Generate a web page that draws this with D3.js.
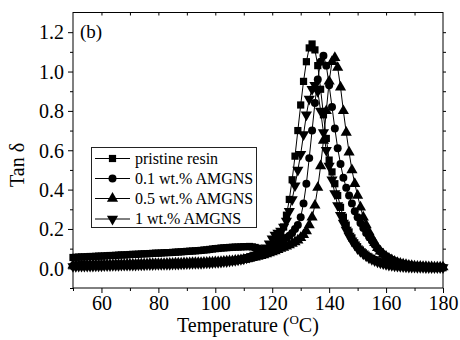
<!DOCTYPE html>
<html><head><meta charset="utf-8">
<script src="https://cdn.jsdelivr.net/npm/d3@7"></script>
<style>html,body{margin:0;padding:0;background:#fff;}svg{display:block;}svg text{font-family:"Liberation Serif","Times New Roman",serif !important;fill:#000;}</style>
</head><body>
<svg id="c" width="460" height="340"></svg>
<script>
const temperature = [50,51,52,53,54,55,56,57,58,59,60,61,62,63,64,65,66,67,68,69,70,71,72,73,74,75,76,77,78,79,80,81,82,83,84,85,86,87,88,89,90,91,92,93,94,95,96,97,98,99,100,101,102,103,104,105,106,107,108,109,110,111,112,113,114,115,116,117,118,119,120,121,122,123,124,125,126,127,128,129,130,131,132,133,134,135,136,137,138,139,140,141,142,143,144,145,146,147,148,149,150,151,152,153,154,155,156,157,158,159,160,161,162,163,164,165,166,167,168,169,170,171,172,173,174,175,176,177,178,179,180];

const pristine = [
.055,.056,.057,.058,.058,.059,.060,.060,.061,.062,.062,
.063,.064,.065,.065,.066,.067,.068,.068,.069,.070,
.071,.071,.072,.073,.074,.074,.075,.076,.077,.077,
.078,.079,.080,.080,.081,.082,.083,.084,.085,.086,
.087,.088,.089,.090,.091,.093,.094,.096,.098,.100,
.101,.103,.104,.105,.106,.107,.108,.108,.109,.110,
.110,.111,.109,.106,.102,.098,.096,.097,.100,.108,
.12,.14,.17,.21,.27,.35,.45,.57,.70,.83,
.95,1.05,1.12,1.14,1.11,1.03,.91,.78,.66,.55,
.49,.43,.37,.31,.26,.22,.185,.155,.13,.11,
.093,.079,.067,.058,.050,.043,.037,.032,.027,.023,
.020,.017,.015,.013,.011,.010,.009,.008,.007,.006,
.005,.005,.004,.004,.004,.003,.003,.003,.003,.003];

const amgns01 = [
.012,.012,.013,.013,.013,.014,.014,.014,.015,.015,.015,
.016,.016,.016,.017,.017,.017,.018,.018,.018,.019,
.019,.019,.020,.020,.020,.021,.021,.021,.022,.022,
.022,.023,.023,.023,.024,.024,.025,.025,.025,.026,
.026,.027,.027,.028,.028,.029,.029,.030,.031,.032,
.033,.034,.035,.036,.037,.039,.040,.042,.044,.046,
.049,.052,.056,.060,.065,.071,.078,.086,.095,.105,
.115,.125,.135,.145,.155,.165,.18,.20,.22,.26,
.33,.43,.56,.70,.84,.96,1.05,1.08,1.03,.93,
.82,.71,.61,.53,.46,.41,.37,.33,.29,.26,
.23,.205,.18,.16,.14,.12,.10,.085,.072,.061,
.052,.044,.037,.031,.026,.022,.019,.016,.014,.012,
.011,.010,.009,.008,.008,.007,.007,.007,.006,.006];

const amgns05 = [
.016,.016,.016,.017,.017,.017,.017,.018,.018,.018,.018,
.019,.019,.019,.019,.020,.020,.020,.020,.021,.021,
.021,.021,.022,.022,.022,.022,.023,.023,.023,.024,
.024,.024,.025,.025,.025,.026,.026,.026,.027,.027,
.027,.028,.028,.029,.029,.030,.030,.031,.031,.032,
.033,.034,.035,.036,.037,.038,.040,.041,.043,.045,
.047,.050,.053,.056,.060,.064,.068,.073,.078,.083,
.088,.094,.100,.106,.112,.119,.126,.134,.143,.155,
.17,.19,.22,.26,.32,.41,.52,.65,.80,.95,
1.05,1.07,1.02,.92,.80,.69,.59,.50,.43,.37,
.31,.26,.22,.185,.155,.13,.105,.087,.072,.060,
.050,.042,.035,.029,.025,.021,.018,.015,.013,.011,
.010,.009,.008,.008,.007,.007,.006,.006,.006,.006];

const amgns1 = [
.010,.010,.011,.011,.011,.012,.012,.012,.013,.013,.013,
.014,.014,.014,.015,.015,.015,.016,.016,.016,.017,
.017,.017,.018,.018,.018,.019,.019,.019,.020,.020,
.020,.021,.021,.021,.022,.022,.022,.023,.023,.024,
.024,.025,.025,.026,.026,.027,.028,.028,.029,.030,
.031,.032,.034,.035,.037,.039,.041,.043,.046,.049,
.053,.057,.062,.068,.075,.083,.092,.105,.125,.15,
.17,.18,.19,.21,.24,.29,.35,.42,.50,.58,
.68,.78,.86,.91,.93,.90,.80,.69,.60,.52,
.45,.38,.32,.27,.23,.195,.165,.14,.12,.10,
.086,.074,.063,.054,.046,.039,.033,.028,.024,.020,
.017,.015,.013,.011,.010,.009,.008,.007,.006,.006,
.005,.005,.005,.004,.004,.004,.004,.004,.004,.004];

const seriesNames = ["pristine resin","0.1 wt.% AMGNS","0.5 wt.% AMGNS","1 wt.% AMGNS"];
const seriesValues = [pristine, amgns01, amgns05, amgns1];
const seriesMarkers = ["square","circle","triangle","triangleDown"];
const xTicks = [60,80,100,120,140,160,180];
const yTicks = [0.0,0.2,0.4,0.6,0.8,1.0,1.2];
const xTitle = "Temperature (";
const yTitle = "Tan \u03b4";
const panelLabel = "(b)";

const svg = d3.select("#c");
const L = 73, R = 443, T = 12.5, B = 288;
const x = d3.scaleLinear().domain([50,180]).range([L,R]);
const y = d3.scaleLinear().domain([-0.1,1.3]).range([B,T]);

// frame
svg.append("rect").attr("x",L).attr("y",T).attr("width",R-L).attr("height",B-T)
  .attr("fill","none").attr("stroke","#000").attr("stroke-width",1);

// bottom axis
const xAxis = d3.axisBottom(x).tickValues(xTicks).tickSize(5).tickFormat(d=>d3.format("d")(d));
const gx = svg.append("g").attr("transform",`translate(0,${B})`).call(xAxis);
gx.select(".domain").remove();
gx.attr("font-size",20);
gx.selectAll("text").style("font-size","20px").attr("dy","0.8em").attr("y",6);
const gxm = svg.append("g").attr("transform",`translate(0,${B})`)
  .call(d3.axisBottom(x).tickValues([50,70,90,110,130,150,170]).tickSize(3).tickFormat(""));
gxm.select(".domain").remove();

// left axis
const yAxis = d3.axisLeft(y).tickValues(yTicks).tickSize(5).tickFormat(d3.format(".1f"));
const gy = svg.append("g").attr("transform",`translate(${L},0)`).call(yAxis);
gy.select(".domain").remove();
gy.attr("font-size",20);
gy.selectAll("text").style("font-size","20px").attr("x",-9).attr("dy","0.34em");
const gym = svg.append("g").attr("transform",`translate(${L},0)`)
  .call(d3.axisLeft(y).tickValues([-0.1,0.1,0.3,0.5,0.7,0.9,1.1]).tickSize(3).tickFormat(""));
gym.select(".domain").remove();

// top axis (inward ticks)
const gt = svg.append("g").attr("transform",`translate(0,${T})`)
  .call(d3.axisBottom(x).tickValues([60,70,80,90,100,110,120,130,140,150,160,170]).tickSize(3).tickFormat(""));
gt.select(".domain").remove();
// right axis
const gr = svg.append("g").attr("transform",`translate(${R},0)`)
  .call(d3.axisRight(y).tickValues([0.0,0.1,0.2,0.3,0.4,0.5,0.6,0.7,0.8,0.9,1.0,1.1,1.2]).tickSize(3).tickFormat(""));
gr.select(".domain").remove();
svg.selectAll(".tick line").attr("stroke","#000");

function symbolPath(kind){
  if(kind==="square") return d3.symbol(d3.symbolSquare, 52)();
  if(kind==="circle") return d3.symbol(d3.symbolCircle, 50)();
  return d3.symbol(d3.symbolTriangle, 54)();
}
function addMarker(g, kind, cx, cy){
  const p = g.append("path").attr("d", symbolPath(kind)).attr("fill","#000");
  if(kind==="triangleDown") p.attr("transform",`translate(${cx},${cy}) rotate(180)`);
  else p.attr("transform",`translate(${cx},${cy})`);
}

const line = d3.line().x(d=>x(d[0])).y(d=>y(d[1]));
const plot = svg.append("g");
seriesValues.forEach((vals,i)=>{
  const pts = temperature.map((t,j)=>[t, vals[j]]);
  const g = plot.append("g");
  g.append("path").datum(pts).attr("d",line).attr("fill","none").attr("stroke","#000").attr("stroke-width",1);
  pts.forEach(p=>addMarker(g, seriesMarkers[i], x(p[0]), y(p[1])));
});

// legend
const lg = svg.append("g");
lg.append("rect").attr("x",91.5).attr("y",147.5).attr("width",165).attr("height",80)
  .attr("fill","#fff").attr("stroke","#222").attr("stroke-width",1);
const legY = [158.5,178.5,198.5,219];
seriesNames.forEach((n,i)=>{
  lg.append("line").attr("x1",95).attr("x2",130).attr("y1",legY[i]).attr("y2",legY[i]).attr("stroke","#000");
  addMarker(lg, seriesMarkers[i], 112.5, legY[i]);
  lg.append("text").attr("x",135).attr("y",legY[i]).attr("dy","0.33em").style("font-size","16px").text(n);
});

// titles
const xt = svg.append("text").attr("x",177).attr("y",332).style("font-size","20px");
xt.append("tspan").text(xTitle);
xt.append("tspan").style("font-size","13px").attr("dy",-8).text("O");
xt.append("tspan").attr("dy",8).text("C)");
svg.append("text").attr("transform","translate(24,165) rotate(-90)").attr("text-anchor","middle")
  .style("font-size","20px").text(yTitle);
svg.append("text").attr("x",80).attr("y",38).style("font-size","19px").text(panelLabel);
</script>
</body></html>
